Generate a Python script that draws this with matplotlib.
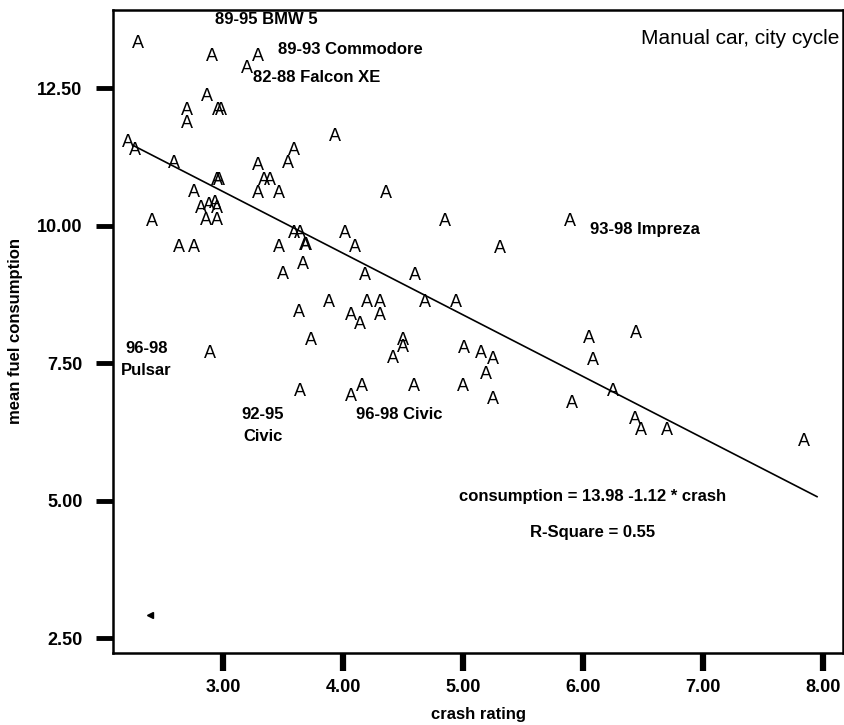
import matplotlib
matplotlib.use("Agg")
import matplotlib.pyplot as plt
import numpy as np

# crash rating vs mean fuel consumption
crash = [2.29, 2.91, 3.29, 3.20, 2.87, 2.70, 2.96, 2.98, 2.70, 2.21,
         2.27, 3.93, 3.59, 3.54, 2.59, 3.29, 2.95, 2.97, 3.34, 3.39,
         2.76, 3.29, 3.47, 4.36, 2.82, 2.88, 2.93, 2.95, 2.86, 2.95,
         2.41, 4.85, 3.59, 3.64, 4.02, 3.68, 3.69, 4.10, 2.63, 2.76,
         3.47, 5.31, 5.89, 3.67, 3.50, 4.18, 4.60, 3.88, 3.63, 4.20,
         4.31, 4.07, 4.14, 4.31, 4.68, 4.94, 3.73, 4.50, 4.50, 4.42,
         2.89, 5.01, 6.05, 6.44, 6.08, 5.15, 5.25, 5.19, 3.64, 4.16,
         4.07, 4.59, 5.00, 5.25, 5.91, 6.25, 6.43, 6.48, 6.70, 7.84]
consumption = [13.32, 13.08, 13.08, 12.85, 12.35, 12.10, 12.10, 12.10, 11.86, 11.52,
               11.37, 11.62, 11.37, 11.13, 11.13, 11.10, 10.82, 10.82, 10.82, 10.82,
               10.61, 10.59, 10.59, 10.59, 10.31, 10.37, 10.40, 10.31, 10.09, 10.09,
               10.07, 10.07, 9.85, 9.85, 9.85, 9.64, 9.64, 9.60, 9.60, 9.60,
               9.60, 9.59, 10.08, 9.30, 9.12, 9.09, 9.09, 8.60, 8.42, 8.60,
               8.60, 8.36, 8.21, 8.36, 8.60, 8.60, 7.91, 7.91, 7.78, 7.59,
               7.68, 7.76, 7.95, 8.04, 7.55, 7.68, 7.56, 7.29, 6.98, 7.08,
               6.89, 7.08, 7.08, 6.85, 6.77, 6.98, 6.47, 6.28, 6.28, 6.07]

intercept = 13.98
slope = -1.12
r_square = 0.55
line_x = [2.25, 7.95]

labels = ["89-95 BMW 5", "89-93 Commodore", "82-88 Falcon XE", "96-98\nPulsar",
          "92-95\nCivic", "96-98 Civic", "93-98 Impreza"]
label_x = [2.93, 3.46, 3.25, 2.36, 3.33, 4.11, 6.06]
label_y = [13.75, 13.20, 12.69, 7.57, 6.37, 6.57, 9.94]
label_ha = ["left", "left", "left", "center", "center", "left", "left"]

x_ticks = [3, 4, 5, 6, 7, 8]
y_ticks = [2.5, 5.0, 7.5, 10.0, 12.5]

fig = plt.figure(figsize=(8.45, 7.25), dpi=100)
ax = fig.add_axes([0.1337, 0.0997, 0.864, 0.8865])
ax.set_xlim(2.083, 8.167)
ax.set_ylim(2.24, 13.92)

for xi, yi in zip(crash, consumption):
    ax.text(xi, yi, "A", ha="center", va="center", fontsize=13,
            family="Liberation Sans", color="black")

ax.plot([2.39], [2.93], marker="<", ms=4, color="black", ls="none")

lx = np.array(line_x)
ax.plot(lx, intercept + slope * lx, color="black", lw=1.2)

for t, xi, yi, ha in zip(labels, label_x, label_y, label_ha):
    ax.text(xi, yi, t, ha=ha, va="center", fontsize=12, fontweight="bold",
            family="Liberation Sans", linespacing=1.6)

ax.text(0.995, 0.955, "Manual car, city cycle", transform=ax.transAxes,
        ha="right", va="center", fontsize=15, family="Liberation Sans")
ax.text(6.08, 5.07, "consumption = %.2f %.2f * crash" % (intercept, slope),
        ha="center", va="center", fontsize=12, fontweight="bold",
        family="Liberation Sans")
ax.text(6.08, 4.43, "R-Square = %.2f" % r_square, ha="center", va="center",
        fontsize=12, fontweight="bold", family="Liberation Sans")

ax.set_xticks(x_ticks)
ax.set_xticklabels(["%.2f" % v for v in x_ticks])
ax.set_yticks(y_ticks)
ax.set_yticklabels(["%.2f" % v for v in y_ticks])
ax.tick_params(axis="x", direction="out", length=13, width=4.5, pad=6, labelsize=13)
ax.tick_params(axis="y", direction="out", length=12, width=3.5, pad=10, labelsize=13)
for lab in ax.get_xticklabels() + ax.get_yticklabels():
    lab.set_fontweight("bold")
    lab.set_family("Liberation Sans")
for s in ax.spines.values():
    s.set_linewidth(1.8)

ax.set_xlabel("crash rating", fontsize=12, fontweight="bold",
              family="Liberation Sans", labelpad=8)
ax.set_ylabel("mean fuel consumption", fontsize=12, fontweight="bold",
              family="Liberation Sans", labelpad=10)

fig.savefig("out.png", dpi=100)
